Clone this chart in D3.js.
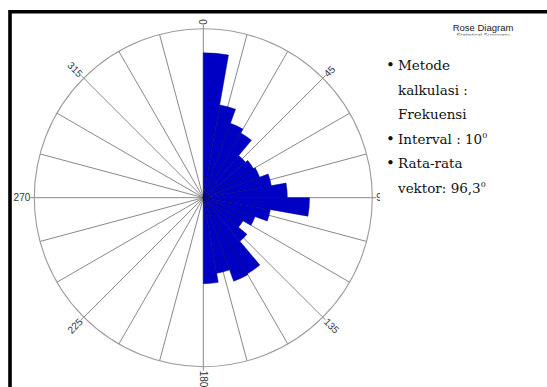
<!DOCTYPE html>
<html><head><meta charset="utf-8">
<script src="https://cdn.jsdelivr.net/npm/d3@7"></script>
<style>html,body{margin:0;padding:0;background:#fff;}svg{display:block;}</style>
</head><body>
<script>
// ---- data ----
const binStarts = [0,10,20,30,40,50,60,70,80,90,100,110,120,130,140,150,160,170];
const frequencies = [30.0,19.5,16.4,15.5,11.4,12.0,12.4,14.3,17.4,22.0,14.1,11.4,9.5,11.8,18.2,18.4,15.9,17.8];
const binWidth = 10;
const spokeAngles = d3.range(0, 360, 15);
const labelAngles = [0,45,90,135,180,225,270,315];
const titleText = "Rose Diagram";
const subtitleText = "Statistical Summary";
const bulletLines = [
  {bullet:true, text:"Metode"},
  {bullet:false, text:"kalkulasi :"},
  {bullet:false, text:"Frekuensi"},
  {bullet:true, text:"Interval : 10", sup:"0"},
  {bullet:true, text:"Rata-rata"},
  {bullet:false, text:"vektor: 96,3", sup:"0"}
];

const W = 547, H = 387;
const cx = 203.3, cy = 197.7, R = 169;
const rad = d => d * Math.PI / 180;

const svg = d3.select("body").append("svg").attr("width", W).attr("height", H);
svg.append("rect").attr("width", W).attr("height", H).attr("fill", "#fff");

const r = d3.scaleLinear().domain([0, 35]).range([0, R]);

const g = svg.append("g").attr("transform", `translate(${cx},${cy})`);

// spokes
g.selectAll("line.spoke").data(spokeAngles).join("line")
  .attr("class","spoke")
  .attr("x1",0).attr("y1",0)
  .attr("x2", a => (R + (labelAngles.includes(a) ? 4 : 0)) * Math.sin(rad(a)))
  .attr("y2", a => -(R + (labelAngles.includes(a) ? 4 : 0)) * Math.cos(rad(a)))
  .attr("stroke","#7a7a7a").attr("stroke-width",0.9);

// outer circle
g.append("circle").attr("r", R).attr("fill","none").attr("stroke","#9a9a9a").attr("stroke-width",1.1);

// petals
const arc = d3.arc();
g.selectAll("path.petal").data(binStarts).join("path")
  .attr("class","petal")
  .attr("d", (d,i) => arc({innerRadius:0, outerRadius:r(frequencies[i]), startAngle:rad(d), endAngle:rad(d+binWidth)}))
  .attr("fill","#0000c4").attr("stroke","#00007a").attr("stroke-width",0.5);

// labels
const LR = 173;
g.selectAll("text.lab").data(labelAngles).join("text")
  .attr("class","lab")
  .attr("transform", a => {
    const x = LR*Math.sin(rad(a)), y = -LR*Math.cos(rad(a));
    const rot = a <= 180 ? a - 90 : a + 90;
    return `translate(${x},${y}) rotate(${rot})`;
  })
  .attr("text-anchor", a => a <= 180 ? "start" : "end")
  .attr("dominant-baseline","central")
  .attr("font-family","Liberation Sans, Arial, sans-serif")
  .attr("font-size",10).attr("fill","#333")
  .text(a => a);

// title
svg.append("text").attr("x",483).attr("y",31).attr("text-anchor","middle")
  .attr("font-family","Liberation Sans, Arial, sans-serif").attr("font-size",9.5).attr("fill","#222")
  .text(titleText);
svg.append("text").attr("x",483).attr("y",37).attr("text-anchor","middle")
  .attr("font-family","Liberation Sans, Arial, sans-serif").attr("font-size",6).attr("fill","#555")
  .text(subtitleText);

// white panel covering right area
svg.append("rect").attr("x",380).attr("y",35.5).attr("width",W-380).attr("height",H-35.5).attr("fill","#fff");

// bullet list
const bx = 390.5, tx = 398, y0 = 70, dy = 24.6;
const bl = svg.append("g").attr("font-family","DejaVu Serif, serif").attr("font-size",13.5).attr("fill","#111");
bulletLines.forEach((ln,i) => {
  const y = y0 + i*dy;
  if (ln.bullet) bl.append("text").attr("x",bx).attr("y",y).attr("text-anchor","middle").attr("font-size",15).text("\u2022");
  const t = bl.append("text").attr("x",tx).attr("y",y);
  t.append("tspan").text(ln.text);
  if (ln.sup) t.append("tspan").attr("font-size",8).attr("dy",-6).text(ln.sup);
});

// border
svg.append("path").attr("d",`M10,${H+5} L10,11.7 L${W+5},11.7`).attr("fill","none").attr("stroke","#000").attr("stroke-width",3.6);
</script>
</body></html>
